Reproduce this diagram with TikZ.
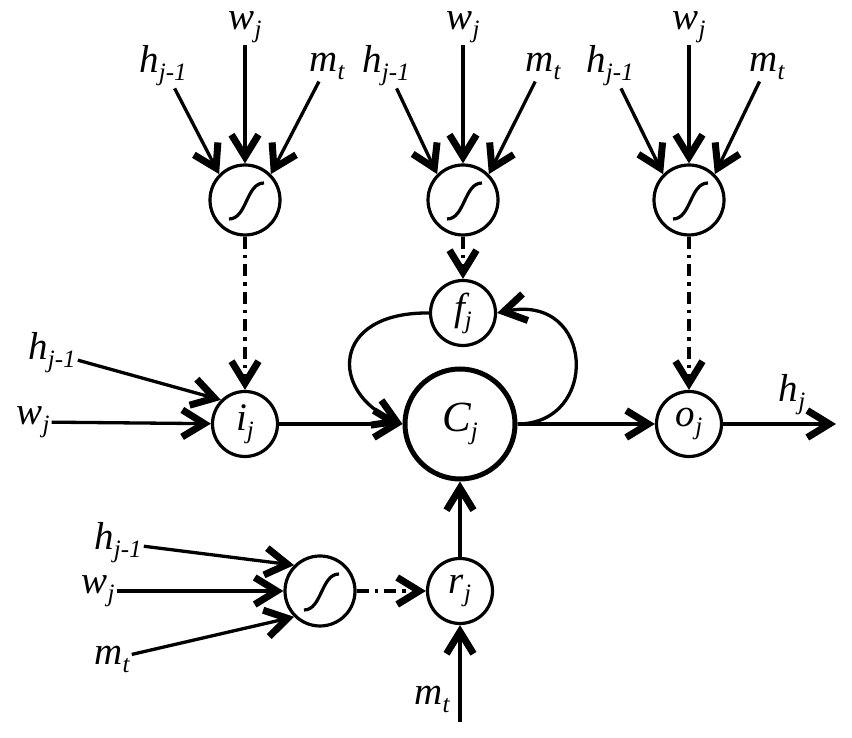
\documentclass[tikz,border=0pt]{standalone}
\usepackage{fontspec}
\setmainfont{Liberation Serif}
\newfontfamily\labelfont{Liberation Serif Italic}
\usetikzlibrary{arrows.meta,positioning}

% symbol with subscript, as set in the figure
\newcommand{\sym}[2]{{\labelfont #1\raisebox{-8pt}{\fontsize{25}{27}\selectfont #2}}}

\begin{document}
\begin{tikzpicture}[
  x=1pt, y=1pt,
  >={Straight Barb[length=22pt, width=27pt, line width=7pt, line cap=butt]},
  every node/.style={font=\fontsize{39}{43}\selectfont, inner sep=2pt},
  unit/.style={circle, draw, line width=3.2pt, minimum size=65pt, inner sep=0pt},
  cell/.style={unit, line width=5pt, minimum size=110pt, font=\fontsize{43}{47}\selectfont},
  sig/.style={unit, minimum size=70pt,
    path picture={\draw[line width=3.2pt]
      ([shift={(-16,-19)}]path picture bounding box.center)
      .. controls +(18,0) and +(-18,0) ..
      ([shift={(19,17)}]path picture bounding box.center);}},
  conn/.style={->, line width=3.3pt},
  gatelink/.style={conn, dash pattern=on 12pt off 6pt on 3.5pt off 6pt}
]
\useasboundingbox (0,0) rectangle (852,738);

% gates
\node[sig] (g1) at (245,538) {};
\node[sig] (g2) at (463,538) {};
\node[sig] (g3) at (689,538) {};
\node[sig] (g4) at (320,147) {};

% units
\node[unit] (i) at (245,314) {\sym{i}{j}};
\node[cell] (c) at (460,314) {\sym{C}{j}};
\node[unit] (o) at (689,314) {\sym{o}{j}};
\node[unit] (f) at (463,425) {\sym{f}{j}};
\node[unit] (r) at (460,147) {\sym{r}{j}};

% inputs
\node (h1) at (163,672) {\sym{h}{j-1}};
\node (w1) at (245,711) {\sym{w}{j}};
\node (m1) at (327,672) {\sym{m}{t}};
\node (h2) at (386,672) {\sym{h}{j-1}};
\node (w2) at (463,711) {\sym{w}{j}};
\node (m2) at (543,672) {\sym{m}{t}};
\node (h3) at (610,672) {\sym{h}{j-1}};
\node (w3) at (689,711) {\sym{w}{j}};
\node (m3) at (767,672) {\sym{m}{t}};
\node (lh) at (52,385) {\sym{h}{j-1}};
\node (lw) at (33,316) {\sym{w}{j}};
\node (bh) at (118,195) {\sym{h}{j-1}};
\node (bw) at (98,147) {\sym{w}{j}};
\node (bm) at (112,79) {\sym{m}{t}};
\node (rm) at (432,39) {\sym{m}{t}};
\node (hj) at (792,343) {\sym{h}{j}};
\coordinate (mend) at (460,16);
\coordinate (hend) at (836,314);

\draw[conn] (h1) -- (g1.135);
\draw[conn] (w1) -- (g1);
\draw[conn] (m1) -- (g1.45);
\draw[conn] (h2) -- (g2.135);
\draw[conn] (w2) -- (g2);
\draw[conn] (m2) -- (g2.45);
\draw[conn] (h3) -- (g3.135);
\draw[conn] (w3) -- (g3);
\draw[conn] (m3) -- (g3.45);
\draw[conn] (bh) -- (g4.135);
\draw[conn] (bw) -- (g4);
\draw[conn] (bm) -- (g4.225);
\draw[conn] (lh) -- (i.135);
\draw[conn] (lw) -- (i);

\draw[gatelink] (g1) -- (i);
\draw[gatelink] (g2) -- (f);
\draw[gatelink] (g3) -- (o);
\draw[gatelink] (g4) -- (r);

\draw[conn] (i) -- (c);
\draw[conn] (c) -- (o);
\draw[conn] (o) -- (hend);
\draw[conn] (r) -- (c);
\draw[conn] (mend) -- (r);
\draw[conn] (f.west) .. controls (330,426) and (330,345) .. (c.west);
\draw[conn] (c.east) .. controls (600,314) and (595,445) .. (f.east);
\end{tikzpicture}
\end{document}
